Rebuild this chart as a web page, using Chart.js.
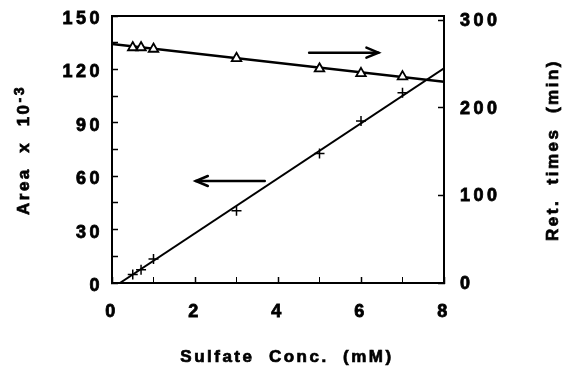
<!DOCTYPE html>
<html><head><meta charset="utf-8">
<script src="https://cdn.jsdelivr.net/npm/chart.js@4"></script>
<style>html,body{margin:0;padding:0;background:#fff}#wrap{width:562px;height:371px}</style>
</head><body><div id="wrap"><canvas id="c"></canvas></div>
<script>
// ---- data ----
const conc = [0.5, 0.7, 1.0, 3.0, 5.0, 6.0, 7.0];           // Sulfate conc. (mM)
const areaValues = [4.8, 7.5, 13.5, 40.6, 72.8, 91.0, 106.9]; // Area x 10^-3 (left axis)
const retValues = [269.0, 269.0, 267.3, 256.7, 244.8, 239.5, 235.7]; // Ret. times (min) (right axis)
const areaFitConc = [0.19, 8];
const areaFitValues = [0, 120.6];
const retFitConc = [0, 8];
const retFitValues = [273.0, 229.9];
const xTickLabels = [0, 2, 4, 6, 8];
const leftTickLabels = [0, 30, 60, 90, 120, 150];
const rightTickLabels = [0, 100, 200, 300];
const leftTitle = 'Area  x  10';
const leftTitleSup = '-3';
const rightTitle = 'Ret.  times  (min)';
const xTitle = 'Sulfate  Conc.  (mM)';
// arrows (data units, left axis): [x from, x to, y]
const arrowToRight = [4.75, 6.42, 129.4];
const arrowToLeft = [3.68, 2.02, 57.3];

const FONT = "'Liberation Sans', Arial, sans-serif";
const pts = (xs, ys) => xs.map((x, i) => ({x, y: ys[i]}));
const noPad = s => { s.paddingTop = 0; s.paddingBottom = 0; s.paddingLeft = 0; s.paddingRight = 0; };

const spacing = {
  id: 'spacing',
  beforeLayout(chart) { chart.ctx.letterSpacing = '3.5px'; },
  beforeDraw(chart) { chart.ctx.letterSpacing = '3.5px'; }
};

const extras = {
  id: 'extras',
  afterDatasetsDraw(chart) {
    const ctx = chart.ctx, xs = chart.scales.x, ys = chart.scales.y;
    const arrow = (a) => {
      const x1 = xs.getPixelForValue(a[0]), x2 = xs.getPixelForValue(a[1]);
      const y = ys.getPixelForValue(a[2]);
      const dir = Math.sign(x2 - x1);
      ctx.save();
      ctx.strokeStyle = '#000'; ctx.lineWidth = 2.5; ctx.lineCap = 'round';
      ctx.beginPath(); ctx.moveTo(x1, y); ctx.lineTo(x2, y); ctx.stroke();
      ctx.beginPath();
      ctx.moveTo(x2 - dir * 12, y - 5); ctx.lineTo(x2, y); ctx.lineTo(x2 - dir * 12, y + 5);
      ctx.stroke();
      ctx.restore();
    };
    arrow(arrowToRight);
    arrow(arrowToLeft);
  },
  afterDraw(chart) {
    const ctx = chart.ctx;
    const MAIN = 'bold 17px ' + FONT, SUP = 'bold 14px ' + FONT;
    const put = (t, x, y) => { ctx.fillText(t, x, y); ctx.strokeText(t, x, y); };
    const title = (text, sup, x, y, rot) => {
      ctx.save();
      ctx.letterSpacing = '2.5px';
      ctx.fillStyle = '#000';
      ctx.strokeStyle = '#000';
      ctx.lineWidth = 0.7;
      ctx.textBaseline = 'middle';
      ctx.textAlign = 'left';
      ctx.translate(x, y);
      ctx.rotate(rot);
      ctx.font = MAIN;
      const w1 = ctx.measureText(text).width;
      let w2 = 0;
      if (sup) { ctx.font = SUP; w2 = ctx.measureText(sup).width; }
      const start = -(w1 + w2) / 2;
      ctx.font = MAIN;
      put(text, start, 0);
      if (sup) { ctx.font = SUP; put(sup, start + w1, -4); }
      ctx.restore();
    };
    title(leftTitle, leftTitleSup, 24, 150, -Math.PI / 2);
    title(rightTitle, '', 553, 150, -Math.PI / 2);
    title(xTitle, '', 287, 357, 0);
  }
};

const tickFont = {family: FONT, size: 18, weight: 'bold'};
const tickStroke = {textStrokeColor: '#000', textStrokeWidth: 0.8};

new Chart(document.getElementById('c'), {
  type: 'scatter',
  data: {
    datasets: [
      {label: 'Area fit', data: pts(areaFitConc, areaFitValues), showLine: true, pointRadius: 0,
       borderColor: '#000', borderWidth: 2, yAxisID: 'y', order: 2},
      {label: 'Ret fit', data: pts(retFitConc, retFitValues), showLine: true, pointRadius: 0,
       borderColor: '#000', borderWidth: 2.5, yAxisID: 'y2', order: 2},
      {label: 'Area', data: pts(conc, areaValues), pointStyle: 'cross', pointRadius: 5,
       borderColor: '#000', borderWidth: 1.5, yAxisID: 'y', order: 1},
      {label: 'Ret. times', data: pts(conc, retValues), pointStyle: 'triangle', pointRadius: 5.5,
       backgroundColor: '#fff', borderColor: '#000', borderWidth: 1.8, yAxisID: 'y2', order: 1}
    ]
  },
  options: {
    responsive: true, maintainAspectRatio: false, animation: false,
    layout: {padding: {top: 16, left: 0, right: 0, bottom: 0}},
    plugins: {legend: {display: false}, tooltip: {enabled: false}},
    scales: {
      x: {
        type: 'linear', position: 'bottom', min: 0, max: 8,
        afterFit(s) { s.height = 88; noPad(s); },
        afterBuildTicks(s) { s.ticks = [0,1,2,3,4,5,6,7,8].map(v => ({value: v})); },
        ticks: {autoSkip: false, maxRotation: 0, padding: 24, color: '#000', font: tickFont, ...tickStroke,
          callback: v => xTickLabels.includes(v) ? String(v) : ''},
        grid: {drawOnChartArea: false, drawTicks: true, tickLength: -6, color: '#000',
          tickWidth: c => (c.tick && c.tick.value % 2 === 0) ? 1.5 : 1},
        border: {display: true, color: '#000', width: 2},
        title: {display: false}
      },
      xtop: {
        type: 'linear', position: 'top', min: 0, max: 8,
        afterFit(s) { s.height = 0; noPad(s); },
        ticks: {display: false}, grid: {display: false, drawTicks: false},
        border: {display: true, color: '#000', width: 2}
      },
      y: {
        type: 'linear', position: 'left', min: 0, max: 150,
        afterFit(s) { s.width = 112; noPad(s); },
        afterBuildTicks(s) { s.ticks = [0,15,30,45,60,75,90,105,120,135,150].map(v => ({value: v})); },
        ticks: {autoSkip: false, padding: 15, labelOffset: 3, color: '#000', font: tickFont, ...tickStroke,
          callback: v => leftTickLabels.includes(v) ? String(v) : ''},
        grid: {drawOnChartArea: false, drawTicks: true, tickLength: -6, color: '#000', tickWidth: 1.5},
        border: {display: true, color: '#000', width: 2}
      },
      y2: {
        type: 'linear', position: 'right', min: 0, max: 305,
        afterFit(s) { s.width = 118; noPad(s); },
        afterBuildTicks(s) { s.ticks = rightTickLabels.map(v => ({value: v})); },
        ticks: {autoSkip: false, padding: 22, labelOffset: 1, color: '#000', font: tickFont, ...tickStroke,
          callback: v => String(v)},
        grid: {drawOnChartArea: false, drawTicks: true, tickLength: -6, color: '#000', tickWidth: 1.5},
        border: {display: true, color: '#000', width: 2}
      }
    }
  },
  plugins: [spacing, extras]
});
</script>
</body></html>
